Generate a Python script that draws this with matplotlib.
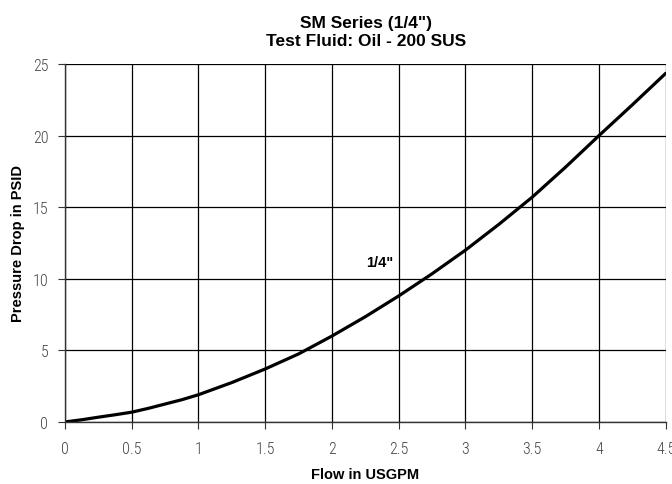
import matplotlib
matplotlib.use('Agg')
import matplotlib.pyplot as plt

# flow (USGPM) vs pressure drop (PSID)
flow = [0, 0.125, 0.25, 0.375, 0.5, 0.625, 0.75, 0.875, 1.0, 1.25, 1.5, 1.75, 2.0, 2.25, 2.5,
        2.75, 3.0, 3.25, 3.5, 3.75, 4.0, 4.25, 4.5]
dp = [0, 0.15, 0.33, 0.5, 0.68, 0.95, 1.25, 1.55, 1.9, 2.75, 3.7, 4.75, 6.0, 7.35, 8.8,
      10.35, 12.0, 13.8, 15.7, 17.8, 20.0, 22.15, 24.35]

xticks = [0, 0.5, 1, 1.5, 2, 2.5, 3, 3.5, 4, 4.5]
xlabels = ['0', '0.5', '1', '1.5', '2', '2.5', '3', '3.5', '4', '4.5']
yticks = [0, 5, 10, 15, 20, 25]

fig = plt.figure(figsize=(6.72, 4.85), dpi=100)
ax = fig.add_axes([0.0967, 0.128, 0.894, 0.738])

ax.plot(flow, dp, color='black', lw=2.3, solid_capstyle='round', solid_joinstyle='round')

ax.set_xlim(0, 4.5)
ax.set_ylim(0, 25)
ax.set_xticks(xticks)
ax.set_xticklabels(xlabels)
ax.set_yticks(yticks)
ax.grid(True, color='black', lw=0.9)
ax.set_axisbelow(True)
for s in ['top', 'right']:
    ax.spines[s].set_visible(False)
for s in ['left', 'bottom']:
    ax.spines[s].set_color('#333333')
    ax.spines[s].set_linewidth(1.0)

ax.tick_params(direction='out', length=5, color='#333333', labelcolor='#444444', labelsize=11.5)
for lab in ax.get_xticklabels() + ax.get_yticklabels():
    lab.set_family('Roboto Condensed')
    lab.set_fontweight('light')
ax.tick_params(axis='x', pad=9)
ax.tick_params(axis='y', pad=7)

ax.set_xlabel('Flow in USGPM', fontsize=10.5, fontweight='bold', family='Liberation Sans')
ax.set_ylabel('Pressure Drop in PSID', fontsize=10.5, fontweight='bold', family='Liberation Sans')
ax.xaxis.set_label_coords(0.5, -0.127)
ax.yaxis.set_label_coords(-0.067, 0.5)

ax.text(2.36, 11.2, '1/4"', fontsize=10.5, fontweight='bold', family='Liberation Sans',
        ha='center', va='center')

fig.text(0.545, 0.968, 'SM Series (1/4")\nTest Fluid: Oil - 200 SUS', ha='center', va='top',
         fontsize=12.5, fontweight='bold', family='Liberation Sans', linespacing=1.28)

fig.savefig('out.png', dpi=100)
